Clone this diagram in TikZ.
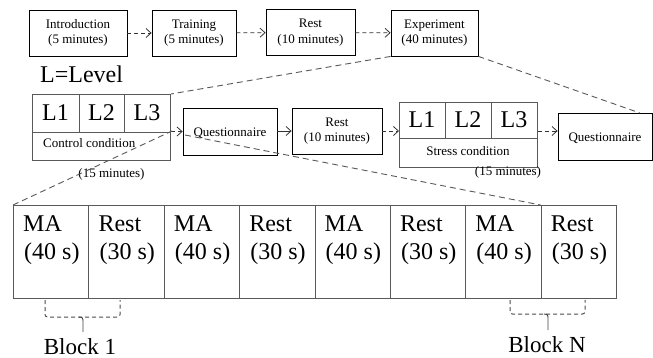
\documentclass[tikz,border=0pt]{standalone}
\usepackage{fontspec}
\setmainfont{Liberation Serif}
\usetikzlibrary{arrows.meta}
\begin{document}
\begin{tikzpicture}[x=1pt,y=-1pt,
  small/.style={font=\fontsize{13}{15.5}\selectfont},
  big/.style={font=\fontsize{24}{28}\selectfont},
  blk/.style={font=\fontsize{23}{27}\selectfont},
  tbox/.style={draw=black, line width=0.8pt, small, align=center, inner sep=0pt,
    execute at begin node={\rule{0pt}{12.5pt}}},
  gbox/.style={draw=black!65, line width=0.9pt, inner sep=0pt, anchor=north west},
  gline/.style={draw=black!65, line width=0.9pt},
  zoomline/.style={draw=black!65, line width=0.9pt, dash pattern=on 6pt off 4pt},
  brk/.style={draw=black!70, line width=1pt, dash pattern=on 4pt off 3pt, rounded corners=2.5pt},
  flow/.style={draw=black!80, line width=0.8pt, -{Straight Barb[length=5pt,width=9pt]}},
  dflow/.style={flow, dash pattern=on 4pt off 3pt},
]
\useasboundingbox (0,0) rectangle (653,358);

% top row
\node[tbox, minimum width=98pt, minimum height=46pt] (intro) at (78,33) {Introduction\\(5 minutes)};
\node[tbox, minimum width=84pt, minimum height=46pt] (train) at (194,33) {Training\\(5 minutes)};
\node[tbox, minimum width=89pt, minimum height=46pt] (rest1) at (310.5,32.5) {Rest\\(10 minutes)};
\node[tbox, minimum width=87pt, minimum height=46pt] (exper) at (434.5,33) {Experiment\\(40 minutes)};
\draw[dflow] (intro) -- (train);
\draw[dflow] (train) -- (rest1);
\draw[dflow] (rest1) -- (exper);

% legend
\node[big, anchor=base west, inner sep=0pt] (legend) at (40,83) {L=Level};

% control condition
\node[gbox, minimum width=138pt, minimum height=66pt] (ctrl) at (32,94) {};
\draw[gline] (32,132) -- (170,132);
\draw[gline] (79,94) -- (79,132);
\draw[gline] (124,94) -- (124,132);
\node[big, inner sep=0pt] (cl1) at (55.5,113) {L1};
\node[big, inner sep=0pt] (cl2) at (101.5,113) {L2};
\node[big, inner sep=0pt] (cl3) at (147,113) {L3};
\node[small, anchor=base west, inner sep=0pt] (ctrltxt) at (43,148) {Control condition};
\node[small, anchor=base, inner sep=0pt] (ctrltime) at (111.5,178) {(15 minutes)};

% middle row
\node[tbox, minimum width=94pt, minimum height=47pt, execute at begin node={}] (q1) at (230,131.5) {Questionnaire};
\node[tbox, minimum width=90pt, minimum height=46pt] (rest2) at (337,131) {Rest\\(10 minutes)};

% stress condition
\node[gbox, minimum width=138pt, minimum height=65pt] (stress) at (399,102) {};
\draw[gline] (399,138) -- (537,138);
\draw[gline] (445,102) -- (445,138);
\draw[gline] (491,102) -- (491,138);
\node[big, inner sep=0pt] (sl1) at (422,120) {L1};
\node[big, inner sep=0pt] (sl2) at (468,120) {L2};
\node[big, inner sep=0pt] (sl3) at (514,120) {L3};
\node[small, anchor=base, inner sep=0pt] (stresstxt) at (468,156) {Stress condition};
\node[small, anchor=base, inner sep=0pt] (stresstime) at (508,176) {(15 minutes)};

\node[tbox, minimum width=94pt, minimum height=47pt, execute at begin node={}] (q2) at (605,136.5) {Questionnaire};

\draw[dflow] (ctrl.east |- q1.west) -- (q1.west);
\draw[flow] (q1.east |- rest2.west) -- (rest2.west);
\draw[dflow] (rest2.east) -- (rest2.east -| stress.west);
\draw[dflow] (stress.east |- rest2.east) -- (q2.west |- rest2.east);

% bottom cells
\foreach \i/\a/\b in {1/MA/{(40 s)},2/Rest/{(30 s)},3/MA/{(40 s)},4/Rest/{(30 s)},5/MA/{(40 s)},6/Rest/{(30 s)},7/MA/{(40 s)},8/Rest/{(30 s)}}{
  \node[gbox, minimum width=75.375pt, minimum height=93pt] (c\i) at ({13+75.375*(\i-1)},205) {};
  \node[big, anchor=base west, inner sep=0pt] (ca\i) at ({23+75.375*(\i-1)},232) {\a};
  \node[big, anchor=base west, inner sep=0pt] (cb\i) at ({24+75.375*(\i-1)},259) {\b};
}

% zoom lines
\coordinate (q2tip) at (640,113);
\coordinate (asc) at (172,131);
\coordinate (desc) at (185,135);
\draw[zoomline] (exper.south west) -- (ctrl.north east);
\draw[zoomline] (exper.south east) -- (q2tip);
\draw[zoomline] (c1.north west) -- (asc);
\draw[zoomline] (desc) -- (c8.north west);

% brackets
\coordinate (b1a) at (45,300);
\coordinate (b1b) at (120,300);
\draw[brk] (b1a) -- (45,317) -- (120,317) -- (b1b);
\draw[gline, draw=black!75] (79,317) .. controls (83,317.5) .. (83,323) -- (83,332);
\node[blk, anchor=base, inner sep=0pt] (block1) at (80,354) {Block 1};

\coordinate (bna) at (510,300);
\coordinate (bnb) at (585,300);
\draw[brk] (bna) -- (510,314) -- (585,314) -- (bnb);
\draw[gline, draw=black!75] (544,314) .. controls (548,314.5) .. (548,320) -- (548,330);
\node[blk, anchor=base, inner sep=0pt] (blockn) at (547,352) {Block N};
\end{tikzpicture}
\end{document}
